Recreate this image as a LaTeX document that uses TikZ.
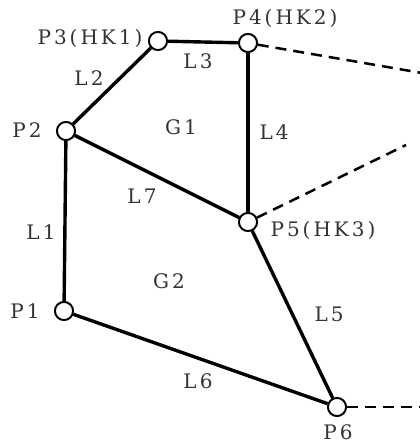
\documentclass[tikz,border=0pt]{standalone}
\usepackage{fontspec}
\setmainfont[LetterSpace=15]{DejaVu Serif}
\begin{document}
\begin{tikzpicture}[x=1pt,y=-1pt,
  vtx/.style={circle,draw,fill=white,line width=1.8pt,minimum size=18pt,inner sep=0pt},
  edge/.style={line width=3.4pt},
  link/.style={line width=2.5pt,dash pattern=on 11pt off 7pt},
  lbl/.style={font=\fontsize{20}{24}\selectfont,inner sep=0pt,text=black!80}]
\useasboundingbox (0,0) rectangle (420,447);
% points
\node[vtx] (p1) at (64,311) {};
\node[vtx] (p2) at (66,131) {};
\node[vtx] (p3) at (158,41) {};
\node[vtx] (p4) at (248,43) {};
\node[vtx] (p5) at (248,222) {};
\node[vtx] (p6) at (337,407) {};
% free ends of the outgoing links
\coordinate (e4) at (422,73);
\coordinate (e5) at (406,145);
\coordinate (e6) at (422,407);
% lines
\draw[edge] (p1) -- (p2);
\draw[edge] (p2) -- (p3);
\draw[edge] (p3) -- (p4);
\draw[edge] (p4) -- (p5);
\draw[edge] (p5) -- (p6);
\draw[edge] (p1) -- (p6);
\draw[edge] (p2) -- (p5);
\draw[link] (p4) -- (e4);
\draw[link] (p5) -- (e5);
\draw[link] (p6) -- (e6);
% redraw circles on top
\foreach \p in {p1,p2,p3,p4,p5,p6} \node[vtx] at (\p) {};
% labels
\node[lbl] at (90,38) {P3(HK1)};
\node[lbl] at (285,18) {P4(HK2)};
\node[lbl] at (27,130) {P2};
\node[lbl] at (323,230) {P5(HK3)};
\node[lbl] at (25,311) {P1};
\node[lbl] at (338,432) {P6};
\node[lbl] at (198,61) {L3};
\node[lbl] at (89,78) {L2};
\node[lbl] at (181,127) {G1};
\node[lbl] at (274,132) {L4};
\node[lbl] at (142,196) {L7};
\node[lbl] at (41,232) {L1};
\node[lbl] at (169,281) {G2};
\node[lbl] at (329,314) {L5};
\node[lbl] at (198,381) {L6};
\end{tikzpicture}
\end{document}
